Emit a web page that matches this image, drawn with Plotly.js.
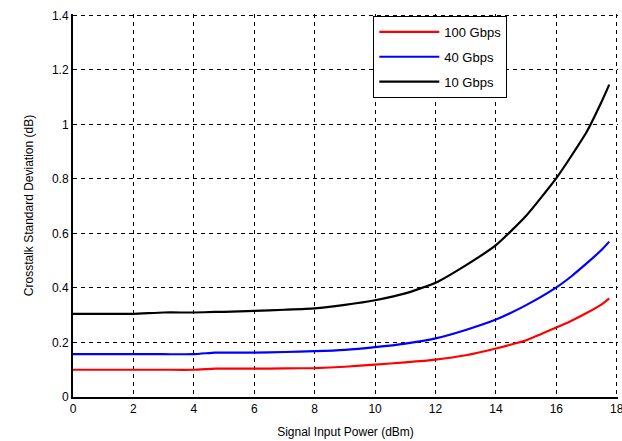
<!DOCTYPE html>
<html>
<head>
<meta charset="utf-8">
<script src="https://cdn.plot.ly/plotly-3.0.1.min.js"></script>
<style>html,body{margin:0;padding:0;background:#fff;}#chart{width:622px;height:441px;}</style>
</head>
<body>
<div id="chart"></div>
<script>
// Signal input power (dBm)
const powerX = [0, 1, 2, 3, 4, 4.7, 5, 6, 7, 8, 9, 10, 11, 12, 13, 14, 15, 16, 16.5, 17, 17.5, 17.75];
// Crosstalk standard deviation (dB)
const gbps100 = [0.100, 0.100, 0.100, 0.100, 0.100, 0.104, 0.104, 0.104, 0.105, 0.106, 0.111, 0.119, 0.127, 0.137, 0.153, 0.178, 0.208, 0.255, 0.280, 0.308, 0.340, 0.362];
const gbps40  = [0.157, 0.157, 0.157, 0.157, 0.157, 0.163, 0.163, 0.163, 0.165, 0.168, 0.173, 0.183, 0.196, 0.215, 0.246, 0.284, 0.337, 0.402, 0.443, 0.490, 0.540, 0.570];
const gbps10  = [0.305, 0.305, 0.305, 0.310, 0.310, 0.312, 0.312, 0.316, 0.320, 0.325, 0.338, 0.355, 0.380, 0.419, 0.483, 0.557, 0.665, 0.803, 0.885, 0.972, 1.084, 1.146];
const seriesNames = ['100 Gbps', '40 Gbps', '10 Gbps'];
const seriesColors = ['#ff0000', '#0000ff', '#000000'];
const xTicks = [0, 2, 4, 6, 8, 10, 12, 14, 16, 18];
const yTicks = [0, 0.2, 0.4, 0.6, 0.8, 1, 1.2, 1.4];
const yTickText = ['0', '0.2', '0.4', '0.6', '0.8', '1', '1.2', '1.4'];

const ys = [gbps100, gbps40, gbps10];
const traces = ys.map((y, i) => ({
  x: powerX, y: y, type: 'scatter', mode: 'lines', name: seriesNames[i],
  legendgroup: seriesNames[i],
  line: {color: seriesColors[i], width: 2.2, shape: 'spline', smoothing: 0.5}
}));

const font = {family: 'Arial, "Liberation Sans", sans-serif', size: 12, color: '#000'};
const layout = {
  width: 622, height: 441,
  margin: {l: 73, r: 4, t: 14, b: 44},
  paper_bgcolor: '#fff', plot_bgcolor: '#fff',
  font: font,
  showlegend: true,
  legend: {
    x: 0.551, y: 0.995, xanchor: 'left', yanchor: 'top',
    bgcolor: '#fff', bordercolor: '#000', borderwidth: 1,
    font: {family: font.family, size: 13, color: '#000'},
    tracegroupgap: 5, itemwidth: 60
  },
  xaxis: {
    range: [0, 18.04], tickvals: xTicks, ticktext: xTicks.map(String),
    showgrid: true, gridcolor: '#000', gridwidth: 1, griddash: '4px,4px',
    showline: true, linecolor: '#000', linewidth: 2, zeroline: false,
    ticks: '', tickfont: font, ticklabeloverflow: 'allow',
    title: {text: 'Signal Input Power (dBm)', font: font, standoff: 12}
  },
  yaxis: {
    range: [0, 1.405], tickvals: yTicks, ticktext: yTickText,
    showgrid: true, gridcolor: '#000', gridwidth: 1, griddash: '4px,4px',
    showline: true, linecolor: '#000', linewidth: 2, zeroline: false,
    ticks: '', tickfont: font, ticklabeloverflow: 'allow',
    title: {text: 'Crosstalk Standard Deviation (dB)', font: font, standoff: 16}
  }
};
Plotly.newPlot('chart', traces, layout, {displayModeBar: false, staticPlot: true});
</script>
</body>
</html>
